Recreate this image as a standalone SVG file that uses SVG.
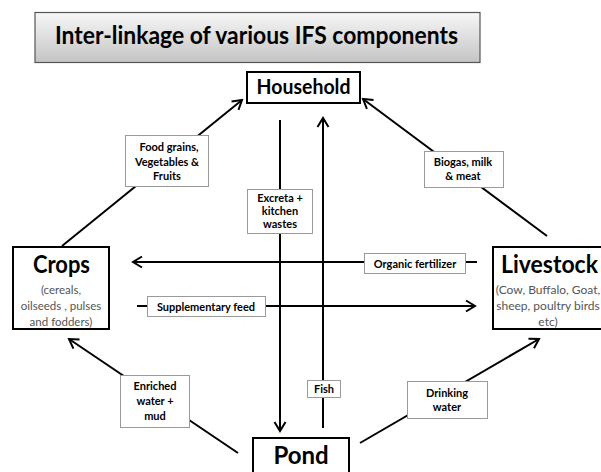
<svg xmlns="http://www.w3.org/2000/svg" width="601" height="472" viewBox="0 0 601 472">
<style>
.node{fill:#fff;stroke:#000;stroke-width:2}
.lbl{fill:#fff;stroke:#9a9a9a;stroke-width:1}
.conn{stroke:#000;stroke-width:2;fill:none}
.big{font-family:Lato,"Open Sans","Liberation Sans",sans-serif;font-weight:bold;fill:#000;text-anchor:middle}
.sm{font-family:Lato,"Open Sans","Liberation Sans",sans-serif;font-weight:bold;font-size:11px;fill:#000;text-anchor:middle}
.sub{font-family:Lato,"Open Sans","Liberation Sans",sans-serif;font-size:11.5px;fill:#555;text-anchor:middle}
.sub2{font-family:Lato,"Open Sans","Liberation Sans",sans-serif;font-size:12px;fill:#555;text-anchor:middle}
</style>
<defs>
<linearGradient id="tg" x1="0" y1="0" x2="0" y2="1">
<stop offset="0" stop-color="#f7f7f7"/>
<stop offset="1" stop-color="#c4c4c4"/>
</linearGradient>
<marker id="ah" viewBox="-12 -7 14 14" refX="0" refY="0" markerWidth="14" markerHeight="14" markerUnits="userSpaceOnUse" orient="auto">
<path d="M-9,-5.5 L0,0 L-9,5.5" fill="none" stroke="#000" stroke-width="2"/>
</marker>
</defs>
<rect width="601" height="472" fill="#fff"/>
<g id="title">
<rect x="35" y="12.5" width="445" height="50" fill="url(#tg)" stroke="#555" stroke-width="1.2"/>
<text x="256.5" y="44" class="big" font-size="25" textLength="403" lengthAdjust="spacingAndGlyphs">Inter-linkage of various IFS components</text>
</g>
<g id="connectors">
<line class="conn" x1="62" y1="246" x2="242" y2="100" marker-end="url(#ah)"/>
<line class="conn" x1="547" y1="236" x2="363" y2="99" marker-end="url(#ah)"/>
<line class="conn" x1="280" y1="120" x2="280" y2="431" marker-end="url(#ah)"/>
<line class="conn" x1="323" y1="428" x2="323" y2="118" marker-end="url(#ah)"/>
<line class="conn" x1="477" y1="262" x2="133" y2="262" marker-end="url(#ah)"/>
<line class="conn" x1="137" y1="306" x2="475" y2="306" marker-end="url(#ah)"/>
<line class="conn" x1="238" y1="453" x2="69" y2="339" marker-end="url(#ah)"/>
<line class="conn" x1="360" y1="443" x2="539" y2="339" marker-end="url(#ah)"/>
</g>
<g id="labels">
<g id="lbl-food">
<rect class="lbl" x="125.5" y="135.5" width="83" height="51"/>
<text class="sm" x="169" y="151">Food grains,</text>
<text class="sm" x="167" y="165.5">Vegetables &amp;</text>
<text class="sm" x="167" y="180">Fruits</text>
</g>
<g id="lbl-excreta">
<rect class="lbl" x="247.5" y="189.5" width="65" height="44"/>
<text class="sm" x="280" y="202">Excreta +</text>
<text class="sm" x="280" y="215">kitchen</text>
<text class="sm" x="280" y="228">wastes</text>
</g>
<g id="lbl-biogas">
<rect class="lbl" x="424.5" y="151.5" width="79" height="36"/>
<text class="sm" x="463" y="166">Biogas, milk</text>
<text class="sm" x="463" y="180">&amp; meat</text>
</g>
<g id="lbl-organic">
<rect class="lbl" x="364.5" y="253.5" width="101" height="20"/>
<text class="sm" x="415" y="267.5">Organic fertilizer</text>
</g>
<g id="lbl-supp">
<rect class="lbl" x="147.5" y="296.5" width="118" height="20"/>
<text class="sm" x="206" y="310.5">Supplementary feed</text>
</g>
<g id="lbl-enriched">
<rect class="lbl" x="120.5" y="375.5" width="69" height="52"/>
<text class="sm" x="155" y="390">Enriched</text>
<text class="sm" x="155" y="405">water +</text>
<text class="sm" x="155" y="420">mud</text>
</g>
<g id="lbl-fish">
<rect class="lbl" x="307.5" y="380.5" width="33" height="17"/>
<text class="sm" x="324" y="393">Fish</text>
</g>
<g id="lbl-drinking">
<rect class="lbl" x="407.5" y="381.5" width="80" height="37"/>
<text class="sm" x="447" y="397">Drinking</text>
<text class="sm" x="447" y="411">water</text>
</g>
</g>
<g id="household">
<rect class="node" x="247" y="72" width="113" height="31"/>
<text class="big" x="303.5" y="94" font-size="20" textLength="94" lengthAdjust="spacingAndGlyphs">Household</text>
</g>
<g id="crops">
<rect class="node" x="13" y="247" width="96" height="82"/>
<text class="big" x="61.5" y="273" font-size="24" textLength="57" lengthAdjust="spacingAndGlyphs">Crops</text>
<text class="sub" x="61" y="294">(cereals,</text>
<text class="sub" x="61" y="310">oilseeds , pulses</text>
<text class="sub" x="61" y="326">and fodders)</text>
</g>
<g id="livestock">
<rect class="node" x="493" y="247" width="112" height="82"/>
<text class="big" x="549.5" y="273" font-size="24" textLength="97" lengthAdjust="spacingAndGlyphs">Livestock</text>
<text class="sub2" x="548" y="294">(Cow, Buffalo, Goat,</text>
<text class="sub2" x="548" y="310">sheep, poultry birds</text>
<text class="sub2" x="548" y="326">etc)</text>
</g>
<g id="pond">
<rect class="node" x="253" y="438" width="96" height="40"/>
<text class="big" x="301" y="464" font-size="24">Pond</text>
</g>
</svg>
